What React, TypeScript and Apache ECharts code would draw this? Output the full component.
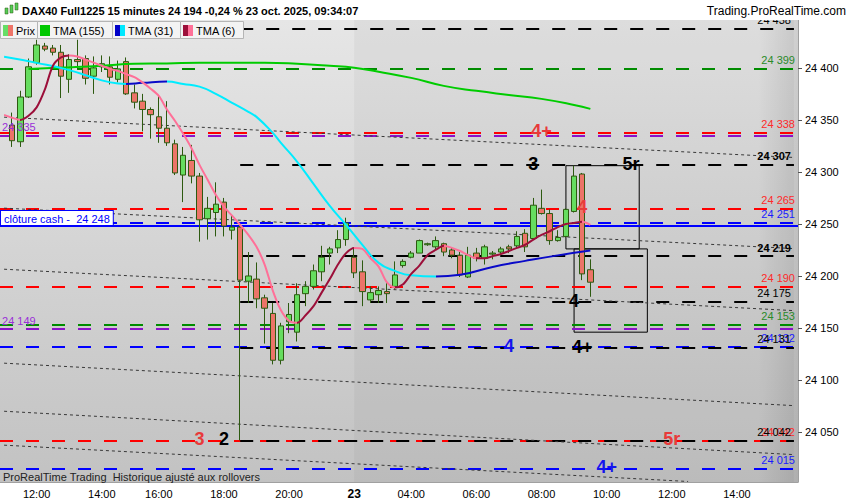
import React, { useEffect, useRef } from 'react';
import * as echarts from 'echarts';

const FONT = 'Arial, "Liberation Sans", sans-serif';

// ---------- categories (15-minute bars) ----------
function slots(day: string, from: string, to: string, skip: string[] = []): string[] {
  const out: string[] = [];
  const [fh, fm] = from.split(':').map(Number);
  const [th, tm] = to.split(':').map(Number);
  for (let m = fh * 60 + fm; m <= th * 60 + tm; m += 15) {
    const t = String(Math.floor(m / 60)).padStart(2, '0') + ':' + String(m % 60).padStart(2, '0');
    if (!skip.includes(t)) out.push(day + ' ' + t);
  }
  return out;
}
const categories = [...slots('22', '11:00', '21:45', ['14:30']), ...slots('23', '02:15', '15:45')];
const dayStart = '23 02:15';

// ---------- candles [open, close, low, high]; first slot is empty ----------
const candles: (number | string)[][] = [
  ['-', '-', '-', '-'], [24345, 24330, 24324, 24357], [24329, 24372, 24324, 24378],
  [24372, 24401, 24371, 24409], [24405, 24422, 24403, 24427], [24421, 24418, 24416, 24424],
  [24419, 24415, 24412, 24422], [24415, 24392, 24371, 24422], [24389, 24408, 24376, 24413],
  [24408, 24406, 24398, 24427], [24409, 24390, 24384, 24412], [24392, 24400, 24375, 24411],
  [24401, 24404, 24396, 24412], [24401, 24391, 24384, 24411], [24389, 24399, 24386, 24407],
  [24406, 24375, 24374, 24410], [24376, 24367, 24361, 24384], [24368, 24360, 24339, 24375],
  [24360, 24355, 24332, 24362], [24353, 24342, 24328, 24373], [24342, 24328, 24325, 24368],
  [24327, 24299, 24297, 24331], [24297, 24316, 24271, 24324], [24311, 24296, 24289, 24326],
  [24296, 24254, 24233, 24299], [24255, 24265, 24235, 24276], [24261, 24269, 24238, 24290],
  [24271, 24248, 24238, 24275], [24244, 24247, 24235, 24258], [24247, 24196, 24042, 24251],
  [24195, 24200, 24174, 24223], [24197, 24178, 24169, 24213], [24179, 24169, 24135, 24182],
  [24164, 24119, 24115, 24174], [24119, 24152, 24115, 24155], [24156, 24163, 24145, 24174],
  [24146, 24182, 24137, 24193], [24183, 24190, 24171, 24195], [24190, 24205, 24187, 24211],
  [24204, 24218, 24195, 24229], [24222, 24226, 24211, 24228], [24227, 24235, 24222, 24244],
  [24235, 24251, 24229, 24256], [24218, 24203, 24198, 24227], [24204, 24185, 24171, 24215],
  [24177, 24184, 24174, 24190], [24182, 24186, 24174, 24190], [24185, 24183, 24174, 24193],
  [24190, 24201, 24187, 24214], [24210, 24214, 24208, 24216], [24218, 24222, 24217, 24224],
  [24222, 24234, 24222, 24235], [24230, 24231, 24229, 24232], [24228, 24234, 24225, 24238],
  [24231, 24223, 24219, 24232], [24225, 24220, 24217, 24227], [24220, 24201, 24199, 24223],
  [24199, 24220, 24198, 24228], [24222, 24217, 24214, 24227], [24217, 24228, 24211, 24230],
  [24221, 24222, 24216, 24224], [24223, 24226, 24221, 24228], [24228, 24226, 24222, 24230],
  [24229, 24238, 24226, 24243], [24241, 24228, 24223, 24245], [24236, 24268, 24235, 24275],
  [24265, 24260, 24259, 24283], [24260, 24234, 24230, 24264], [24234, 24237, 24233, 24244],
  [24238, 24264, 24237, 24265], [24262, 24296, 24261, 24306], [24298, 24202, 24196, 24299],
  [24206, 24194, 24180, 24216],
];

// ---------- moving averages ----------
const tma155: number[][] = [
  [3, 24399], [8, 24400.5], [12, 24402], [16, 24404], [20, 24404.3], [24, 24405], [28, 24405],
  [32, 24405], [36, 24404], [40, 24402], [43, 24400], [46, 24396.2], [50, 24390.4], [54, 24382.7],
  [58, 24377.9], [62, 24374], [66, 24370.2], [70, 24364.4], [72, 24360.6],
];
const tma31: number[][] = [
  [0, 24410.6], [4, 24404.8], [8, 24397.8], [12, 24388], [14, 24385], [15, 24384.6], [17, 24385.6],
  [20, 24386.8], [22, 24384.6], [24, 24382], [26, 24375], [28, 24366.4], [30, 24357.7], [31, 24352.9],
  [33, 24337.5], [34, 24327.9], [36, 24309.7], [38, 24288.5], [40, 24267.4], [42, 24249.1],
  [44, 24229.9], [46, 24212.6], [48, 24204.9], [50, 24200.6], [53, 24199.4], [56, 24201.1],
  [60, 24208.7], [64, 24214.5], [68, 24219.8], [72, 24224.4],
];
const tma31Rising: number[][] = [[15, 20], [53, 98]];
const tma6: number[] = [
  24354.8, 24352, 24350, 24354, 24362, 24379, 24402, 24410, 24412, 24411,
  24408, 24405, 24402, 24399, 24397, 24394, 24391, 24386, 24380, 24373,
  24360, 24349, 24336.6, 24323, 24306.8, 24292.4, 24278, 24266.4, 24258, 24249,
  24239.5, 24228, 24211, 24186, 24167, 24157, 24155, 24162, 24171, 24184,
  24197, 24211, 24222, 24227, 24226, 24217, 24209, 24194, 24189, 24192,
  24202, 24210, 24220, 24225, 24229, 24227, 24224, 24220, 24217, 24217,
  24219, 24221, 24224, 24227, 24230, 24235, 24239.5, 24243, 24247, 24250,
  24251, 24252, 24249,
];
const tma6Rising: number[][] = [[2, 8], [36, 43], [48, 54], [58, 71]];

// ---------- levels ----------
const greenLevels = [24399, 24153];
const redLevels = [24338, 24265, 24190, 24042];
const blueLevels = [24251, 24132, 24015];
const purpleLevels = [24335, 24149];
const blackLevels = [24438, 24307, 24219, 24175, 24131, 24042];
const blackLevelsFrom = 29;
const cashClose = 24248;
const lastPrice = 24194;

// trend lines: [fromIndex, fromValue, toIndex, toValue]
const trendLines: number[][] = [
  [0, 24352.6, 97, 24313.9],
  [0, 24265.2, 97, 24226.3],
  [0, 24206.5, 97, 24166.7],
  [0, 24116.2, 97, 24075.4],
  [0, 24070, 97, 24028.3],
  [0, 24037.4, 84, 24002.5],
];

// boxes: [fromIndex, top, toIndex, bottom]
const boxes: number[][] = [
  [69, 24306, 78, 24226],
  [70, 24226, 79, 24146],
];

// wave labels: [text, index, value]
const redMarks: [string, number, number][] = [['4+', 66, 24338], ['4', 71, 24265], ['3', 24, 24042], ['5r', 82, 24042]];
const blackMarks: [string, number, number][] = [['3', 65, 24307], ['5r', 77, 24307], ['4', 70, 24175], ['4+', 71, 24131], ['2', 27, 24042]];
const blueMarks: [string, number, number][] = [['4', 62, 24132], ['4+', 74, 24015]];

const yTicks = [24050, 24100, 24150, 24200, 24250, 24300, 24350, 24400];
const Y_MIN = 24002;
const Y_MAX = 24446;

const title = 'DAX40 Full1225 15 minutes 24 194 -0,24 % 23 oct. 2025, 09:34:07';

// ---------- styles ----------
const C_GREEN = '#008c00';
const C_RED = '#ff0000';
const C_BLUE = '#0000ff';
const C_PURPLE = '#8a10c8';
const C_BLACK = '#000000';
const DASH = [13, 13];

function fmt(v: number): string {
  const s = String(Math.round(v));
  return s.slice(0, s.length - 3) + ' ' + s.slice(-3);
}

function pieces(rising: number[][], last: number, up: string, down: string) {
  const out: any[] = [];
  let cur = 0;
  for (const [a, b] of rising) {
    if (a > cur) out.push({ gte: cur, lt: a, color: down });
    out.push({ gte: a, lt: b, color: up });
    cur = b;
  }
  if (cur < last) out.push({ gte: cur, lte: last, color: down });
  return out;
}

function lvlLabel(text: string, color: string, pos: string, bold = false) {
  return { show: true, position: pos, formatter: text, color, fontSize: 11, fontFamily: FONT, distance: 3, fontWeight: bold ? 'bold' : 'normal' };
}

function fullLevel(v: number, color: string, label: any) {
  return { yAxis: v, lineStyle: { color, width: 2, type: DASH }, label };
}

function buildOption() {
  const lastCat = categories[categories.length - 1];
  const levelData: any[] = [];
  greenLevels.forEach((v) => levelData.push(fullLevel(v, C_GREEN, lvlLabel(fmt(v), '#2a8a2a', 'insideEndTop'))));
  redLevels.forEach((v) => levelData.push(fullLevel(v, C_RED, lvlLabel(fmt(v), '#ff2a2a', 'insideEndTop'))));
  blueLevels.forEach((v) => levelData.push(fullLevel(v, C_BLUE, lvlLabel(fmt(v), '#1a1aff', 'insideEndTop'))));
  purpleLevels.forEach((v) => levelData.push(fullLevel(v, C_PURPLE, { show: false })));
  blackLevels.forEach((v) =>
    levelData.push([
      {
        coord: [categories[blackLevelsFrom], v],
        lineStyle: { color: C_BLACK, width: 2, type: DASH },
        label: lvlLabel(fmt(v), '#000', 'insideEndTop', v === 24307 || v === 24219),
      },
      { coord: [lastCat, v] },
    ])
  );
  levelData.push({
    yAxis: cashClose,
    lineStyle: { color: C_BLUE, width: 2, type: 'solid' },
    label: {
      show: true, position: 'insideStartTop', formatter: 'clôture cash -  ' + fmt(cashClose),
      color: C_BLUE, fontSize: 11, fontFamily: FONT, backgroundColor: '#ffffff',
      borderColor: C_BLUE, borderWidth: 1, padding: [2, 3, 1, 3], distance: [1, 1],
    },
  });
  trendLines.forEach(([a, v1, b, v2]) =>
    levelData.push([
      { coord: [categories[a], v1], lineStyle: { color: '#383838', width: 1, type: [3, 3] }, label: { show: false } },
      { coord: [categories[b], v2] },
    ])
  );

  const markData: any[] = [];
  const addMarks = (list: [string, number, number][], color: string) =>
    list.forEach(([t, i, v]) => markData.push({ name: t, coord: [categories[i], v], label: { color } }));
  addMarks(redMarks, '#e83a3a');
  addMarks(blackMarks, '#000000');
  addMarks(blueMarks, '#1414ee');
  purpleLevels.forEach((v) =>
    markData.push({
      name: fmt(v), coord: [categories[0], v],
      label: { color: '#9a30d8', fontSize: 11, fontWeight: 'normal', align: 'left', verticalAlign: 'bottom', offset: [-2, -3] },
    })
  );

  const areaData: any[] = [
    [{ xAxis: dayStart, itemStyle: { color: 'rgba(0,0,0,0.035)' } }, { xAxis: lastCat }],
  ];
  boxes.forEach(([a, top, b, bottom]) =>
    areaData.push([
      { coord: [categories[a], top], itemStyle: { color: 'rgba(0,0,0,0)', borderColor: '#000', borderWidth: 1 } },
      { coord: [categories[b], bottom] },
    ])
  );

  const legendItems = [
    { label: 'Prix', c1: '#66dd66', c2: '#ee7468', x: 0, w: 37 },
    { label: 'TMA (155)', c1: '#00c800', c2: '#00c800', x: 37, w: 75 },
    { label: 'TMA (31)', c1: '#0000c8', c2: '#00e8ff', x: 112, w: 68 },
    { label: 'TMA (6)', c1: '#9c0f3a', c2: '#ff7098', x: 180, w: 63 },
  ];
  const graphics: any[] = [
    {
      type: 'rect', z: 1, silent: true,
      shape: { x: 758, y: 20, width: 40, height: 462 },
      style: { fill: new echarts.graphic.LinearGradient(0, 0, 1, 0, [
        { offset: 0, color: 'rgba(0,0,0,0)' }, { offset: 1, color: 'rgba(0,0,0,0.1)' },
      ]) },
    },
    { type: 'rect', z: 50, silent: true, shape: { x: 0, y: 0, width: 850, height: 20 }, style: { fill: '#ffffff' } },
    { type: 'rect', z: 51, shape: { x: 5, y: 8, width: 3, height: 6 }, style: { fill: '#55cc55', stroke: '#2d5a10', lineWidth: 0.5 } },
    { type: 'rect', z: 51, shape: { x: 10, y: 5, width: 3, height: 8 }, style: { fill: '#55cc55', stroke: '#2d5a10', lineWidth: 0.5 } },
    { type: 'rect', z: 51, shape: { x: 15, y: 3, width: 3, height: 7 }, style: { fill: '#55cc55', stroke: '#2d5a10', lineWidth: 0.5 } },
    {
      type: 'text', z: 51, x: 22, y: 11,
      style: { text: title, font: 'bold 11px ' + FONT, fill: '#000', verticalAlign: 'middle' },
    },
    {
      type: 'text', z: 51, x: 846, y: 11,
      style: { text: 'Trading.ProRealTime.com', font: '12px ' + FONT, fill: '#000', align: 'right', verticalAlign: 'middle' },
    },
    {
      type: 'text', z: 51, x: 3, y: 477,
      style: { text: 'ProRealTime Trading  Historique ajusté aux rollovers', font: '11px ' + FONT, fill: '#222', verticalAlign: 'middle' },
    },
  ];
  legendItems.forEach((it) => {
    graphics.push({ type: 'rect', z: 52, shape: { x: it.x + 0.5, y: 21.5, width: it.w, height: 17 }, style: { fill: '#f3f3f3', stroke: '#b5b5b5', lineWidth: 1 } });
    graphics.push({ type: 'rect', z: 53, shape: { x: it.x + 3, y: 25, width: 5, height: 11 }, style: { fill: it.c1 } });
    graphics.push({ type: 'rect', z: 53, shape: { x: it.x + 8, y: 25, width: 5, height: 11 }, style: { fill: it.c2 } });
    graphics.push({ type: 'text', z: 53, x: it.x + 16, y: 30.5, style: { text: it.label, font: '11px ' + FONT, fill: '#000', verticalAlign: 'middle' } });
  });

  return {
    animation: false,
    backgroundColor: '#ffffff',
    textStyle: { fontFamily: FONT },
    grid: {
      left: 0, right: 52, top: 20, bottom: 18, show: true, borderWidth: 0,
      backgroundColor: new echarts.graphic.LinearGradient(0, 0, 0, 1, [
        { offset: 0, color: '#e6e6e6' }, { offset: 1, color: '#c2c2c2' },
      ]),
    },
    xAxis: {
      type: 'category', data: categories, boundaryGap: true,
      axisLine: { show: true, lineStyle: { color: '#a0a0a0' } },
      axisTick: { show: false },
      splitLine: { show: false },
      axisLabel: {
        color: '#000', fontSize: 11, fontFamily: FONT, margin: 6,
        interval: (idx: number, value: string) =>
          value === dayStart || (value.endsWith(':00') && Number(value.slice(3, 5)) % 2 === 0),
        formatter: (value: string) => (value === dayStart ? '{d|23}' : value.slice(3)),
        rich: { d: { fontWeight: 'bold', fontSize: 12, fontFamily: FONT, color: '#000' } },
      },
    },
    yAxis: {
      type: 'value', position: 'right', min: Y_MIN, max: Y_MAX,
      splitLine: { show: false },
      axisLine: { show: true, lineStyle: { color: '#a0a0a0' } },
      axisTick: { show: true, length: 4, customValues: yTicks, lineStyle: { color: '#555' } },
      axisLabel: { customValues: yTicks, formatter: (v: number) => fmt(v), color: '#000', fontSize: 11, fontFamily: FONT, margin: 7 },
    },
    visualMap: [
      { type: 'piecewise', show: false, seriesIndex: 3, dimension: 0, pieces: pieces(tma31Rising, 97, '#0a0ac8', '#00ecff') },
      { type: 'piecewise', show: false, seriesIndex: 4, dimension: 0, pieces: pieces(tma6Rising, 97, '#9c0f3a', '#ff7098') },
    ],
    graphic: graphics,
    series: [
      {
        name: 'levels', type: 'line', data: [], z: 1, silent: true,
        markLine: { z: 1, silent: true, symbol: ['none', 'none'], animation: false, data: levelData },
        markArea: { z: 1, silent: true, animation: false, data: areaData },
      },
      {
        name: 'Prix', type: 'candlestick', data: candles, barWidth: 6, z: 2,
        itemStyle: { color: '#66dd5f', color0: '#ec7468', borderColor: '#2d5a10', borderColor0: '#2d5a10', borderWidth: 1 },
        markLine: {
          silent: true, symbol: ['none', 'none'], animation: false,
          data: [{
            yAxis: lastPrice, lineStyle: { opacity: 0 },
            label: {
              show: true, position: 'end', formatter: fmt(lastPrice), color: '#000', fontSize: 11, fontFamily: FONT,
              backgroundColor: '#ffcc00', borderColor: '#999', borderWidth: 1, padding: [2, 4, 1, 4], distance: 4,
            },
          }],
        },
      },
      { name: 'TMA (155)', type: 'line', data: tma155, z: 3, smooth: true, symbol: 'none', lineStyle: { color: '#00cc00', width: 2 } },
      { name: 'TMA (31)', type: 'line', data: tma31, z: 3, smooth: true, symbol: 'none', lineStyle: { width: 2 } },
      { name: 'TMA (6)', type: 'line', data: tma6, z: 3, smooth: 0.3, symbol: 'none', lineStyle: { width: 2 } },
      {
        name: 'marks', type: 'line', data: [], z: 6, silent: true,
        markPoint: {
          z: 6, silent: true, animation: false, symbol: 'rect', symbolSize: 1,
          itemStyle: { color: 'rgba(0,0,0,0)' },
          label: { show: true, position: 'inside', formatter: (p: any) => p.name, fontSize: 18, fontWeight: 'bold', fontFamily: FONT, offset: [0, -1] },
          data: markData,
        },
      },
    ],
  };
}

export default function App() {
  const ref = useRef<HTMLDivElement>(null);
  useEffect(() => {
    const chart = echarts.init(ref.current as HTMLDivElement, null, { renderer: 'svg' });
    chart.setOption(buildOption() as any);
    return () => chart.dispose();
  }, []);
  return <div ref={ref} style={{ position: 'absolute', left: 0, top: 0, width: 850, height: 500 }} />;
}
